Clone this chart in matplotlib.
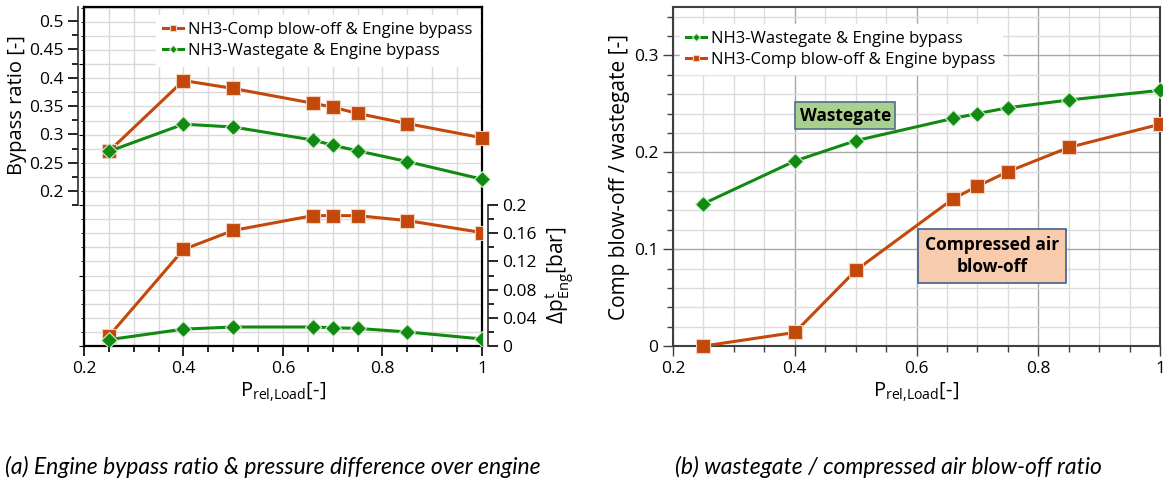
import numpy as np
import matplotlib
matplotlib.use("Agg")
import matplotlib.pyplot as plt
from matplotlib.ticker import MultipleLocator, FixedLocator

plt.rcParams['font.family'] = ['Open Sans', 'DejaVu Sans']
plt.rcParams['mathtext.default'] = 'regular'

# Data
p_load = [0.25, 0.4, 0.5, 0.66, 0.7, 0.75, 0.85, 1.0]

# (a) bypass ratio
bypass_comp = [0.27, 0.395, 0.381, 0.355, 0.348, 0.337, 0.319, 0.294]
bypass_wg = [0.27, 0.318, 0.313, 0.290, 0.281, 0.271, 0.252, 0.221]
# (a) pressure difference over engine [bar]
dp_comp = [0.014, 0.137, 0.164, 0.185, 0.185, 0.185, 0.178, 0.161]
dp_wg = [0.009, 0.024, 0.027, 0.027, 0.026, 0.025, 0.020, 0.010]

# (b) wastegate / compressed air blow-off ratio
ratio_wg = [0.147, 0.191, 0.212, 0.235, 0.240, 0.246, 0.254, 0.264]
ratio_comp = [0.0, 0.014, 0.078, 0.152, 0.165, 0.180, 0.205, 0.229]

lbl_comp = "NH3-Comp blow-off & Engine bypass"
lbl_wg = "NH3-Wastegate & Engine bypass"

orange = "#c4480a"
green = "#128a12"
xlabel = r'P$_{\mathregular{rel{,}Load}}$[-]'

fig = plt.figure(figsize=(11.63, 4.86), dpi=100)

# ---------------- panel (a) ----------------
ax = fig.add_axes([0.0722, 0.288, 0.3422, 0.6975])
ax.set_xlim(0.2, 1.0)
ax.set_ylim(0, 0.481)
ax.xaxis.set_minor_locator(MultipleLocator(0.05))
ax.yaxis.set_minor_locator(MultipleLocator(0.02))
ax.grid(True, which='both', color='#d9d9d9', lw=1)
ax.set_axisbelow(True)
ax.tick_params(axis='y', which='both', left=False, labelleft=False)
ax.tick_params(axis='x', which='major', length=7, width=1.2, labelsize=12.5)
ax.tick_params(axis='x', which='minor', length=4, width=1.2)
ax.set_xticks([0.2, 0.4, 0.6, 0.8, 1.0], ['0.2', '0.4', '0.6', '0.8', '1'])
for s in ax.spines.values():
    s.set_color('black')
    s.set_linewidth(1.6)
ax.set_xlabel(xlabel, fontsize=14.5, labelpad=3)

ax.plot(p_load, dp_comp, color=orange, lw=2.2, marker='s', ms=10,
        mec='#f0d0c0', mew=0.8, zorder=3)
ax.plot(p_load, dp_wg, color=green, lw=2.2, marker='D', ms=8.5,
        mec='#d0f0d0', mew=0.8, zorder=3)

# right bracket axis for pressure difference
ax_dp = ax.twinx()
ax_dp.set_ylim(0, 0.481)
for k in ['left', 'top', 'bottom']:
    ax_dp.spines[k].set_visible(False)
ax_dp.spines['right'].set_position(('outward', 4))
ax_dp.spines['right'].set_bounds(0, 0.2)
ax_dp.spines['right'].set_linewidth(1.2)
ax_dp.spines['right'].set_color('#303030')
ax_dp.set_yticks([0, 0.04, 0.08, 0.12, 0.16, 0.2],
                 ['0', '0.04', '0.08', '0.12', '0.16', '0.2'])
ax_dp.yaxis.set_minor_locator(FixedLocator(np.arange(0, 0.201, 0.02)))
ax_dp.tick_params(axis='y', which='major', length=7, width=1.2, labelsize=12.5)
ax_dp.tick_params(axis='y', which='minor', length=4, width=1.2)
ax_dp.set_ylabel(r'$\Delta$p$^{\mathregular{t}}_{\mathregular{Eng}}$[bar]', fontsize=15)
ax_dp.yaxis.set_label_coords(1.155, 0.21)

# left bracket axis for bypass ratio
ax_bp = ax.twinx()
ax_bp.set_ylim(-0.0735, 0.5247)
for k in ['right', 'top', 'bottom']:
    ax_bp.spines[k].set_visible(False)
ax_bp.spines['left'].set_visible(True)
ax_bp.spines['left'].set_position(('outward', 4))
ax_bp.spines['left'].set_bounds(0.175, 0.525)
ax_bp.spines['left'].set_linewidth(1.2)
ax_bp.spines['left'].set_color('#303030')
ax_bp.yaxis.set_ticks_position('left')
ax_bp.yaxis.set_label_position('left')
ax_bp.set_yticks([0.2, 0.25, 0.3, 0.35, 0.4, 0.45, 0.5],
                 ['0.2', '0.25', '0.3', '0.35', '0.4', '0.45', '0.5'])
ax_bp.yaxis.set_minor_locator(FixedLocator(np.arange(0.175, 0.526, 0.025)))
ax_bp.tick_params(axis='y', which='major', length=7, width=1.2, labelsize=12.5)
ax_bp.tick_params(axis='y', which='minor', length=4, width=1.2)
ax_bp.set_ylabel('Bypass ratio [-]', fontsize=14.5)
ax_bp.yaxis.set_label_coords(-0.142, 0.71)

ax_bp.plot(p_load, bypass_comp, color=orange, lw=2.2, marker='s', ms=10,
           mec='#f0d0c0', mew=0.8, label=lbl_comp, clip_on=False, zorder=3)
ax_bp.plot(p_load, bypass_wg, color=green, lw=2.2, marker='D', ms=8.5,
           mec='#d0f0d0', mew=0.8, label=lbl_wg, clip_on=False, zorder=3)
ax_bp.legend(loc='upper right', fontsize=12, markerscale=0.5,
             handlelength=1.2, handletextpad=0.3, labelspacing=0.3,
             borderaxespad=0.2, fancybox=False, framealpha=1,
             edgecolor='white', bbox_to_anchor=(1.0, 0.985))

# ---------------- panel (b) ----------------
bx = fig.add_axes([0.5787, 0.288, 0.4187, 0.6975])
bx.set_xlim(0.2, 1.0)
bx.set_ylim(0, 0.35)
bx.xaxis.set_minor_locator(MultipleLocator(0.05))
bx.yaxis.set_minor_locator(MultipleLocator(0.02))
bx.grid(True, which='minor', color='#dcdcdc', lw=1)
bx.grid(True, which='major', color='#a8a8a8', lw=1)
bx.set_axisbelow(True)
bx.set_xticks([0.2, 0.4, 0.6, 0.8, 1.0], ['0.2', '0.4', '0.6', '0.8', '1'])
bx.set_yticks([0, 0.1, 0.2, 0.3], ['0', '0.1', '0.2', '0.3'])
bx.tick_params(which='major', length=7, width=1, labelsize=12.5, color='#404040')
bx.tick_params(which='minor', length=4, width=1, color='#404040')
for s in bx.spines.values():
    s.set_color('#404040')
    s.set_linewidth(1.5)
bx.set_xlabel(xlabel, fontsize=14.5, labelpad=3)
bx.set_ylabel('Comp blow-off / wastegate [-]', fontsize=15, labelpad=3)

bx.plot(p_load, ratio_wg, color=green, lw=2.2, marker='D', ms=8.5,
        mec='#d0f0d0', mew=0.8, label=lbl_wg, clip_on=False, zorder=3)
bx.plot(p_load, ratio_comp, color=orange, lw=2.2, marker='s', ms=10,
        mec='#f0d0c0', mew=0.8, label=lbl_comp, clip_on=False, zorder=3)
bx.legend(loc='upper left', fontsize=12, markerscale=0.5,
          handlelength=1.2, handletextpad=0.3, labelspacing=0.3,
          borderaxespad=0.4, fancybox=False, framealpha=1,
          edgecolor='white', bbox_to_anchor=(0.0, 0.97))

bx.text(0.483, 0.238, 'Wastegate', fontsize=12.5, fontweight='bold',
        ha='center', va='center', zorder=4,
        bbox=dict(boxstyle='square,pad=0.25', fc='#a9d18e', ec='#4f6f8f', lw=1.2))
bx.text(0.724, 0.093, 'Compressed air\nblow-off', fontsize=12.5, fontweight='bold',
        ha='center', va='center', linespacing=1.3, zorder=4,
        bbox=dict(boxstyle='square,pad=0.4', fc='#f8cbad', ec='#3f5f8f', lw=1.2))

# captions
fig.text(0.235, 0.04, '(a) Engine bypass ratio & pressure difference over engine',
         fontsize=16.5, style='italic', family='Lato', ha='center', va='center')
fig.text(0.764, 0.04, '(b) wastegate / compressed air blow-off ratio',
         fontsize=16.5, style='italic', family='Lato', ha='center', va='center')

fig.savefig('out.png', dpi=100)
